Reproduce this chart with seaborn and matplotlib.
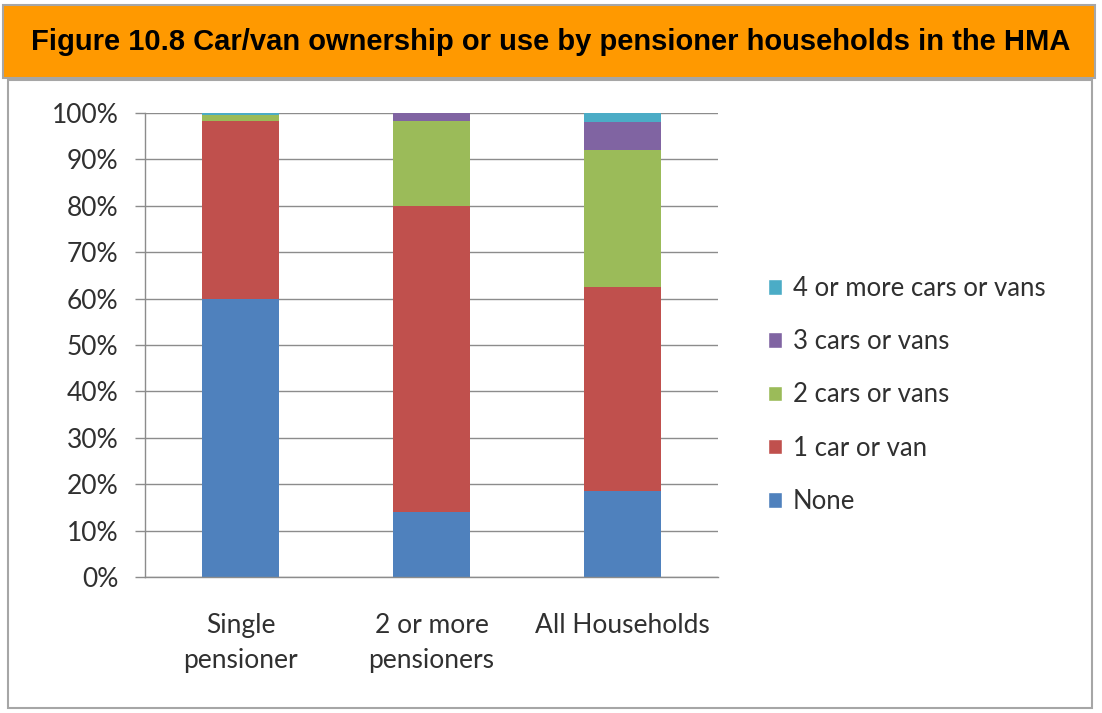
import matplotlib
matplotlib.use('Agg')
import matplotlib.pyplot as plt
import seaborn as sns
import numpy as np
from matplotlib.patches import Rectangle, Patch

# data (percent of households)
categories = ['Single\npensioner', '2 or more\npensioners', 'All Households']
none_ = [59.9, 14.0, 18.5]
one_car = [38.4, 66.0, 44.0]
two_cars = [1.2, 18.3, 29.5]
three_cars = [0.1, 1.6, 6.0]
four_plus = [0.4, 0.1, 2.0]
series_labels = ['None', '1 car or van', '2 cars or vans', '3 cars or vans', '4 or more cars or vans']
colors = ['#4F81BD', '#C0504D', '#9BBB59', '#8064A2', '#4BACC6']

sns.set_theme(style='white')
plt.rcParams['font.family'] = ['Lato', 'DejaVu Sans']

fig = plt.figure(figsize=(11.02, 7.13), dpi=100)
W, H = 1102, 713

# orange title banner + chart frame
fig.patches.append(Rectangle((3 / W, 1 - 78 / H), 1092 / W, 73 / H, transform=fig.transFigure,
                             facecolor='#FF9900', edgecolor='#A6A6A6', linewidth=1.5, zorder=-2))
fig.patches.append(Rectangle((8 / W, 1 - 708 / H), 1084 / W, 628 / H, transform=fig.transFigure,
                             facecolor='none', edgecolor='#A6A6A6', linewidth=1.5, zorder=-2))
fig.text(551 / W, 1 - 42 / H, 'Figure 10.8 Car/van ownership or use by pensioner households in the HMA',
         ha='center', va='center', fontsize=21, fontweight='bold', family='Liberation Sans', color='black')

ax = fig.add_axes([145 / W, 1 - 577 / H, 573 / W, 464 / H])

series = [none_, one_car, two_cars, three_cars, four_plus]
cum = np.cumsum(np.array(series), axis=0)
x = np.arange(len(categories))
# draw cumulative totals from top down so each segment shows
for i in range(len(series) - 1, -1, -1):
    sns.barplot(x=x, y=cum[i], color=colors[i], width=0.4, saturation=1,
                linewidth=0, ax=ax, native_scale=True)

ax.set_xlim(-0.5, 2.5)
ax.set_ylim(0, 100)
ax.set_yticks(np.arange(0, 101, 10))
ax.set_yticklabels([f'{v}%' for v in range(0, 101, 10)], fontsize=19, color='#303030')
ax.yaxis.grid(True, color='#8C8C8C', linewidth=1)
ax.set_axisbelow(True)

ax.set_xticks([-0.5, 0.5, 1.5, 2.5])
ax.set_xticklabels([])
ax.set_xticks(x, minor=True)
ax.set_xticklabels(categories, minor=True, fontsize=19, color='#303030', linespacing=1.5)
ax.tick_params(axis='x', which='major', length=10, width=1, color='#8C8C8C', direction='out')
ax.tick_params(axis='x', which='minor', length=0, pad=26)
ax.tick_params(axis='y', length=7, width=1, color='#8C8C8C', direction='out', pad=12, left=True)
for s in ['top', 'right']:
    ax.spines[s].set_visible(False)
for s in ['left', 'bottom']:
    ax.spines[s].set_color('#8C8C8C')
    ax.spines[s].set_linewidth(1)
ax.set_xlabel('')
ax.set_ylabel('')

handles = [Patch(facecolor=colors[i], label=series_labels[i]) for i in range(len(series) - 1, -1, -1)]
fig.legend(handles=handles, loc='center left', bbox_to_anchor=(745 / W, 1 - 395 / H), frameon=False,
           fontsize=18.5, handlelength=0.55, handleheight=0.55, handletextpad=0.4, labelspacing=1.1,
           labelcolor='#303030')

fig.savefig('out.png', dpi=100)
